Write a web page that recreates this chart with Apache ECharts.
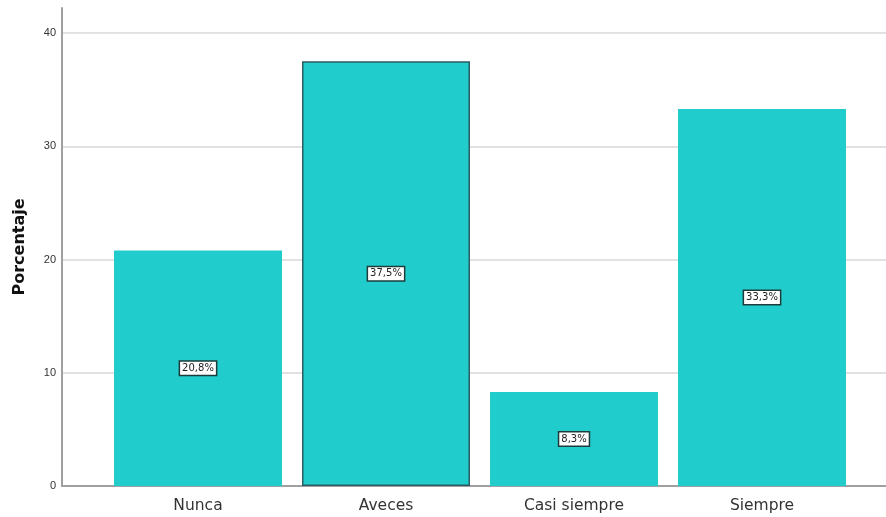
<!DOCTYPE html>
<html><head><meta charset="utf-8">
<script src="https://cdn.jsdelivr.net/npm/echarts@6/dist/echarts.min.js"></script>
<style>html,body{margin:0;padding:0;background:#fff}#c{width:886px;height:517px}</style>
</head><body><div id="c"></div>
<script>
const categories = ["Nunca", "Aveces", "Casi siempre", "Siempre"];
const values = [20.8, 37.5, 8.3, 33.3];
const yTicks = [0, 10, 20, 30, 40];
const yTitle = "Porcentaje";

const chart = echarts.init(document.getElementById('c'));
const barColor = '#20cdcc';
chart.setOption({
  animation: false,
  grid: [
    {left: 62, right: 0, top: 33, bottom: 31, outerBoundsMode: 'none', containLabel: false},
    {left: 104, right: 30, top: 33, bottom: 31, outerBoundsMode: 'none', containLabel: false},
    {left: 62, right: 0, top: 8, bottom: 31, outerBoundsMode: 'none', containLabel: false}
  ],
  xAxis: [
    {gridIndex: 0, type: 'category', data: categories, axisLabel: {show: false}, axisTick: {show: false},
     axisLine: {show: true, lineStyle: {color: '#a0a0a0', width: 2}}},
    {gridIndex: 1, type: 'category', data: categories, axisLine: {show: false}, axisTick: {show: false},
     axisLabel: {color: '#333', fontSize: 15.5, fontFamily: 'DejaVu Sans, sans-serif', margin: 12}},
    {gridIndex: 2, type: 'category', data: categories, show: false}
  ],
  yAxis: [
    {gridIndex: 0, type: 'value', min: yTicks[0], max: yTicks[yTicks.length-1], interval: 10,
     axisLine: {show: false}, axisTick: {show: false},
     axisLabel: {color: '#333', fontSize: 11, margin: 6, fontFamily: 'Arial, Liberation Sans, sans-serif'},
     splitLine: {show: true, lineStyle: {color: '#d8d8d8', width: 1.5}}},
    {gridIndex: 1, type: 'value', min: yTicks[0], max: yTicks[yTicks.length-1], show: false},
    {gridIndex: 2, type: 'value', min: 0, max: 1, axisLabel: {show: false}, axisTick: {show: false},
     name: yTitle, nameLocation: 'middle', nameGap: 34, nameRotate: 90,
     nameTextStyle: {fontSize: 16, fontWeight: 'bold', color: '#111', fontFamily: 'DejaVu Sans, sans-serif'},
     splitLine: {show: false}, axisLine: {show: true, lineStyle: {color: '#a0a0a0', width: 2}}}
  ],
  series: [{
    type: 'bar', xAxisIndex: 1, yAxisIndex: 1, barWidth: 168,
    data: values.map((v, i) => ({
      value: v,
      itemStyle: i === 1 ? {color: barColor, borderColor: '#2a5c60', borderWidth: 1.5} : {color: barColor}
    })),
    label: {
      show: true, position: 'inside',
      formatter: p => String(p.value).replace('.', ',') + '%',
      color: '#222', fontSize: 10, fontFamily: 'DejaVu Sans, sans-serif',
      backgroundColor: '#fff', borderColor: '#1d3b3b', borderWidth: 1.5, padding: [2, 2, 1, 2]
    }
  }]
});
</script></body></html>
